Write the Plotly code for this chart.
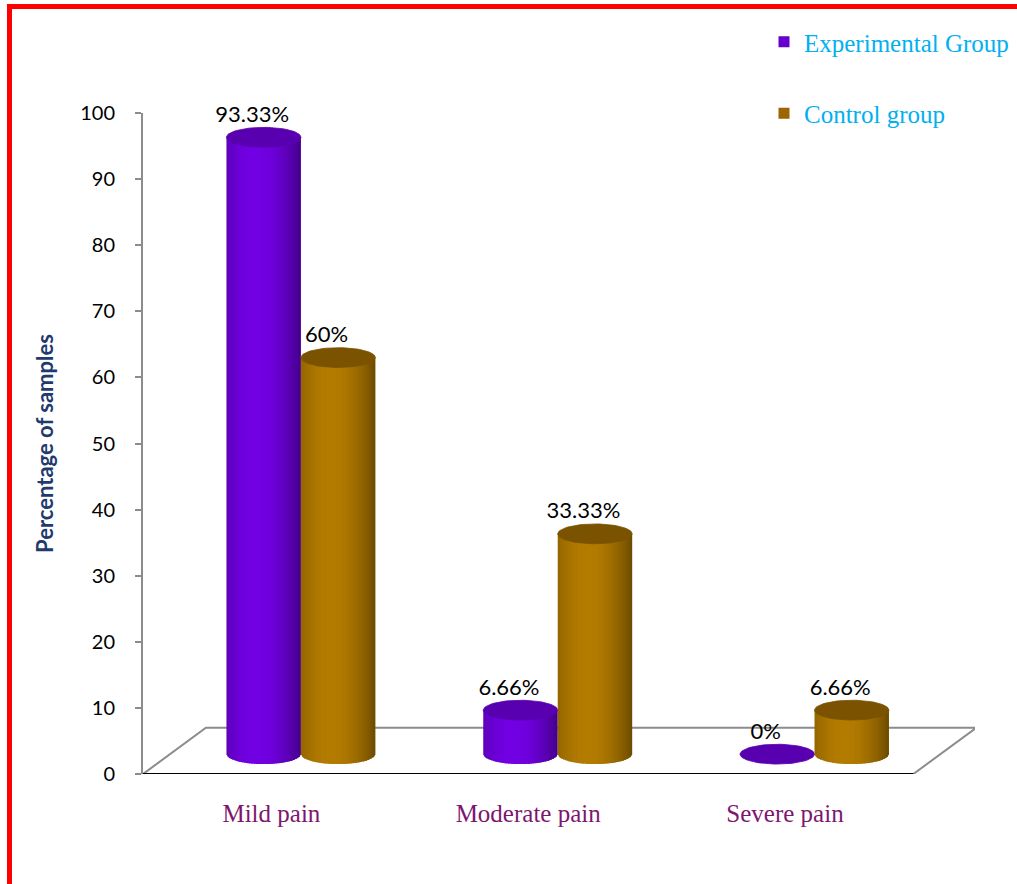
import numpy as np
import plotly.graph_objects as go

# ---------------- data ----------------
categories = ["Mild pain", "Moderate pain", "Severe pain"]
experimental = [93.33, 6.66, 0]
control = [60, 33.33, 6.66]
experimental_labels = ["93.33%", "6.66%", "0%"]
control_labels = ["60%", "33.33%", "6.66%"]
y_ticks = [0, 10, 20, 30, 40, 50, 60, 70, 80, 90, 100]

# ---------------- geometry / style ----------------
W, H = 1017, 884
L, R, T, B = 143, 42, 113, 110
X_MAX = 3.24
DEPTH_X, DEPTH_Y = 0.245, 7.0      # perspective offset of the floor
BASE = 3.0                          # floor height at mid depth
HALF_W = 0.145                      # half cylinder width (x units)
ELL_B = 1.5                         # semi-minor axis of cylinder ellipse (y units)
OFFSETS = [0.47, 0.76]              # bar centre inside each category
N_STRIPS = 30

series = [
    dict(name="Experimental Group", values=experimental, labels=experimental_labels,
         rgb=(114, 0, 228), top="#5800B0", legend="#6600CC"),
    dict(name="Control group", values=control, labels=control_labels,
         rgb=(180, 124, 0), top="#7A5200", legend="#9C6500"),
]

pw, ph = W - L - R, H - T - B


def px_x(px):
    return (px - L) / pw


def px_y(py):
    return (H - B - py) / ph


def shade(rgb, t):
    f = 1 - 0.40 * ((t + 0.2) / 1.2) ** 2
    return "rgb(%d,%d,%d)" % tuple(int(max(0, min(255, c * f))) for c in rgb)


def lower_ellipse(x, c, y0):
    return y0 - ELL_B * np.sqrt(max(0.0, 1 - ((x - c) / HALF_W) ** 2))


fig = go.Figure()

# floor (behind the bars)
fig.add_trace(go.Scatter(
    x=[0, DEPTH_X, len(categories) + DEPTH_X, len(categories)],
    y=[0, DEPTH_Y, DEPTH_Y, 0],
    mode="lines", line=dict(color="#8C8C8C", width=2),
    hoverinfo="skip", showlegend=False, cliponaxis=False))
fig.add_trace(go.Scatter(
    x=[0, len(categories)], y=[0, 0], mode="lines",
    line=dict(color="black", width=2), hoverinfo="skip",
    showlegend=False, cliponaxis=False))
# category boundary tick marks
tx, ty = [], []
for i in range(len(categories) + 1):
    tx += [i, i, None]
    ty += [0, -1.6, None]
fig.add_trace(go.Scatter(x=tx, y=ty, mode="lines", line=dict(color="black", width=2),
                         hoverinfo="skip", showlegend=False, cliponaxis=False))

# cylinders
for si, s in enumerate(series):
    for ci, v in enumerate(s["values"]):
        c = ci + OFFSETS[si]
        y0 = BASE
        y1 = BASE + v
        if v > 0:
            edges = np.linspace(c - HALF_W, c + HALF_W, N_STRIPS + 1)
            step = edges[1] - edges[0]
            for k in range(N_STRIPS):
                xa = edges[k]
                # each strip reaches into the next one so no seams show
                xb = min(edges[k + 1] + 0.6 * step, c + HALF_W)
                sub = np.linspace(xa, xb, 4)
                bottom = [lower_ellipse(x, c, y0) for x in sub]
                t = ((edges[k] + edges[k + 1]) / 2 - c) / HALF_W
                col = shade(s["rgb"], t)
                fig.add_trace(go.Scatter(
                    x=[xa, xb] + list(sub[::-1]) + [xa],
                    y=[y1, y1] + bottom[::-1] + [y1],
                    mode="lines", fill="toself", fillcolor=col,
                    line=dict(color=col, width=0),
                    hoverinfo="skip", showlegend=False, cliponaxis=False))
        th = np.linspace(0, 2 * np.pi, 80)
        fig.add_trace(go.Scatter(
            x=c + HALF_W * np.cos(th), y=y1 + ELL_B * np.sin(th),
            mode="lines", fill="toself", fillcolor=s["top"],
            line=dict(color=s["top"], width=0.8),
            hoverinfo="skip", showlegend=False, cliponaxis=False))
    # value labels
    fig.add_trace(go.Scatter(
        x=[ci + OFFSETS[si] - 0.045 for ci in range(len(categories))],
        y=[BASE + v + ELL_B for v in s["values"]],
        mode="text", text=s["labels"], textposition="top center",
        textfont=dict(family="Lato", size=22, color="black"),
        hoverinfo="skip", showlegend=False, cliponaxis=False))

# legend entries
for s in series:
    fig.add_trace(go.Scatter(
        x=[None], y=[None], mode="markers", name=s["name"], legendgroup=s["name"],
        marker=dict(symbol="square", size=11, color=s["legend"])))

# red frame
fig.add_shape(type="line", xref="paper", yref="paper",
              x0=px_x(7), x1=px_x(W + 5), y0=px_y(6.5), y1=px_y(6.5),
              line=dict(color="#FF0000", width=5))
fig.add_shape(type="line", xref="paper", yref="paper",
              x0=px_x(9.5), x1=px_x(9.5), y0=px_y(4), y1=px_y(H + 5),
              line=dict(color="#FF0000", width=5))

fig.update_layout(
    width=W, height=H,
    margin=dict(l=L, r=R, t=T, b=B, autoexpand=False),
    paper_bgcolor="white", plot_bgcolor="white",
    font=dict(family="Lato", color="black"),
    showlegend=True,
    legend=dict(x=px_x(764), y=px_y(19), xanchor="left", yanchor="top",
                font=dict(family="Liberation Serif", size=25, color="#00B0F0"),
                tracegroupgap=36, bgcolor="rgba(0,0,0,0)", itemclick=False),
    xaxis=dict(range=[0, X_MAX], tickvals=[i + 0.5 for i in range(len(categories))],
               ticktext=categories, ticks="", showline=False, showgrid=False,
               zeroline=False, ticklabelstandoff=22,
               tickfont=dict(family="Liberation Serif", size=25, color="#7E1670")),
    yaxis=dict(range=[0, 100], tickvals=y_ticks, ticks="outside", ticklen=6,
               tickwidth=2, tickcolor="#8C8C8C", showline=True, linecolor="#8C8C8C",
               linewidth=2, showgrid=False, zeroline=False, ticklabelstandoff=16,
               tickfont=dict(family="Lato", size=20, color="black"),
               title=dict(text="Percentage of samples", standoff=20,
                          font=dict(family="Lato", size=22, color="#1F3A6E",
                                    weight="bold"))),
)

fig.write_html("out.html")
